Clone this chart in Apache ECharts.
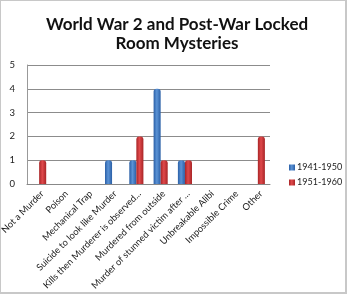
<!DOCTYPE html>
<html><head><meta charset="utf-8">
<script src="https://cdn.jsdelivr.net/npm/echarts@6/dist/echarts.min.js"></script>
<style>html,body{margin:0;padding:0;background:#fff}#c{width:348px;height:295px}</style>
</head><body><div id="c"></div>
<script>
const titleText = 'World War 2 and Post-War Locked\nRoom Mysteries';
const categories = ['Not a Murder','Poison','Mechanical Trap','Suicide to look like Murder','Kills then Murderer is observed...','Murdered from outside','Murder of stunned victim after ...','Unbreakable Alibi','Impossible Crime','Other'];
const seriesNames = ['1941-1950','1951-1960'];
const values1941 = [0,0,0,1,1,4,1,0,0,0];
const values1951 = [1,0,0,0,2,1,1,0,0,2];
const yTicks = [0,1,2,3,4,5];

function grad(dark, light){
  return new echarts.graphic.LinearGradient(0,0,1,0,[
    {offset:0,color:dark},{offset:0.45,color:light},{offset:1,color:dark}]);
}
const chart = echarts.init(document.getElementById('c'), null, {renderer:'canvas'});
chart.setOption({
  animation:false,
  backgroundColor:'#fff',
  title:{text:titleText,left:172,top:10,textAlign:'center',
    textStyle:{fontFamily:'Lato',fontWeight:'bold',fontSize:17,lineHeight:19,color:'#111'}},
  graphic:[{type:'rect',shape:{x:0,y:0,width:346,height:293},style:{fill:'none',stroke:'#c8c8c8',lineWidth:2},silent:true}],
  legend:{orient:'vertical',left:284,top:158,itemWidth:6,itemHeight:6,itemGap:6,icon:'rect',
    textStyle:{fontFamily:'Lato',fontSize:9,color:'#222',padding:[0,0,0,-3]},data:seriesNames},
  grid:{left:27,right:78,top:65,bottom:111,containLabel:false,outerBoundsMode:'none'},
  xAxis:{type:'category',data:categories,
    axisLine:{show:true,lineStyle:{color:'#888',width:1}},axisTick:{show:false},
    axisLabel:{rotate:45,interval:0,fontFamily:'Lato',fontSize:9.3,color:'#222',margin:5,verticalAlign:'top'}},
  yAxis:{type:'value',min:yTicks[0],max:yTicks[yTicks.length-1],interval:1,
    axisLine:{show:true,lineStyle:{color:'#999'}},axisTick:{show:false},
    axisLabel:{fontFamily:'Lato',fontSize:9.5,color:'#222',margin:12}, 
    splitLine:{lineStyle:{color:'#8c8c8c',width:1}}},
  series:[
    {name:seriesNames[0],type:'bar',data:values1941,barGap:'0%',barCategoryGap:'42%',
      itemStyle:{color:grad('#2a5fa6','#5b93d6'),borderRadius:[3,3,0,0]}},
    {name:seriesNames[1],type:'bar',data:values1951,
      itemStyle:{color:grad('#a82426','#e0494b'),borderRadius:[3,3,0,0]}}
  ]
});
</script></body></html>
